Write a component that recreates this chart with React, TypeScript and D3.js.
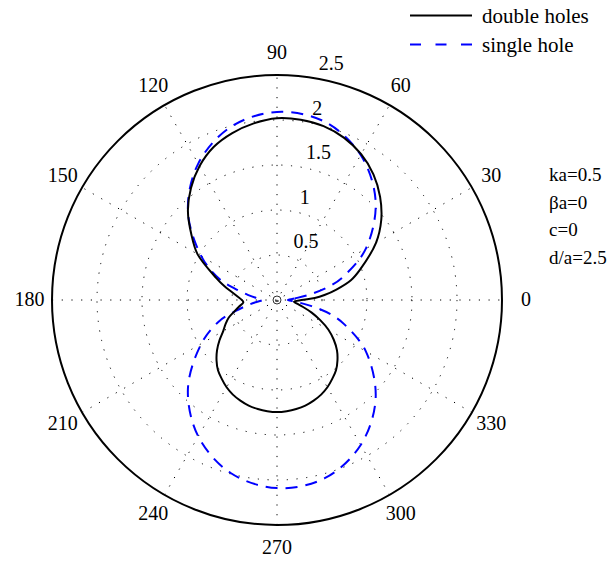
import React from "react";
import * as d3 from "d3";

// Polar pattern samples: angle in degrees (counter-clockwise from 0) and radius
const doubleAngles = [0, 3, 6, 10, 15, 20, 30, 37.5, 45, 52.5, 60, 67.5, 75, 82.5, 90, 97.5, 105, 112.5, 120, 127.5, 135, 142.5, 150, 160, 165, 170, 175, 180, 184, 190, 195, 200, 205, 210, 215, 220, 225, 230, 235, 240, 245, 250, 255, 260, 265, 270, 275, 280, 285, 290, 295, 300, 305, 310, 315, 320, 325, 330, 335, 340, 345, 350, 354];
const doubleRadii = [0.27, 0.42, 0.53, 0.67, 0.85, 0.98, 1.27, 1.46, 1.62, 1.76, 1.87, 1.95, 2.0, 2.02, 2.02, 1.98, 1.92, 1.84, 1.72, 1.57, 1.4, 1.2, 1.02, 0.72, 0.61, 0.51, 0.44, 0.39, 0.375, 0.43, 0.49, 0.57, 0.63, 0.69, 0.78, 0.87, 0.95, 1.02, 1.07, 1.12, 1.16, 1.19, 1.215, 1.23, 1.24, 1.245, 1.24, 1.23, 1.215, 1.19, 1.16, 1.12, 1.07, 1.02, 0.95, 0.87, 0.77, 0.66, 0.53, 0.41, 0.3, 0.22, 0.19];

const singleAngles = [0, 5, 10, 15, 20, 30, 45, 60, 75, 90, 105, 120, 135, 150, 160, 165, 170, 175, 180, 185, 190, 195, 200, 210, 225, 240, 255, 270, 285, 300, 315, 330, 340, 345, 350, 355];
const singleRadii = [0.12, 0.2, 0.39, 0.62, 0.8, 1.14, 1.55, 1.86, 2.05, 2.09, 1.99, 1.75, 1.4, 0.97, 0.68, 0.48, 0.33, 0.22, 0.16, 0.22, 0.33, 0.48, 0.68, 0.97, 1.4, 1.75, 1.99, 2.09, 2.05, 1.86, 1.55, 1.14, 0.8, 0.62, 0.39, 0.2];

const ringValues = [0.5, 1, 1.5, 2, 2.5];
const spokeAngles = [0, 30, 60, 90, 120, 150];
const angleLabels = ["0", "30", "60", "90", "120", "150", "180", "210", "240", "270", "300", "330"];
const legendNames = ["double holes", "single hole"];
const paramLines = ["ka=0.5", "\u03b2a=0", "c=0", "d/a=2.5"];

const W = 613;
const H = 563;
const cx = 277;
const cy = 300;
const rMax = 2.5;
const FONT = "'Liberation Serif', 'Times New Roman', Times, serif";

const r = d3.scaleLinear().domain([0, rMax]).range([0, 225]);
const toRad = (deg: number) => (deg * Math.PI) / 180;

type P = { a: number; v: number };

const pathFor = (angles: number[], radii: number[]) => {
  const pts: P[] = angles.map((a, i) => ({ a, v: radii[i] }));
  return d3
    .line<P>()
    .x((p) => cx + r(p.v) * Math.cos(toRad(p.a)))
    .y((p) => cy - r(p.v) * Math.sin(toRad(p.a)))
    .curve(d3.curveCatmullRomClosed.alpha(0.5))(pts) as string;
};

export default function App() {
  const R = r(rMax);
  const dots = "1.2 8.5";
  const lbl82 = toRad(82);
  return (
    <svg
      width={W}
      height={H}
      style={{ position: "absolute", left: 0, top: 0, background: "#fff" }}
      fontFamily={FONT}
    >
      <rect x={0} y={0} width={W} height={H} fill="#fff" />
      {/* dotted spokes */}
      {spokeAngles.map((a) => (
        <line
          key={"s" + a}
          x1={cx - R * Math.cos(toRad(a))}
          y1={cy + R * Math.sin(toRad(a))}
          x2={cx + R * Math.cos(toRad(a))}
          y2={cy - R * Math.sin(toRad(a))}
          stroke="#000"
          strokeWidth={1}
          strokeDasharray={dots}
        />
      ))}
      {/* dotted rings */}
      {ringValues.slice(0, -1).map((v) => (
        <circle
          key={"c" + v}
          cx={cx}
          cy={cy}
          r={r(v)}
          fill="none"
          stroke="#000"
          strokeWidth={1}
          strokeDasharray={dots}
        />
      ))}
      {/* outer boundary */}
      <circle cx={cx} cy={cy} r={R} fill="none" stroke="#000" strokeWidth={2} />
      {/* angle labels */}
      {angleLabels.map((t, i) => {
        const a = toRad(i * 30);
        return (
          <text
            key={"a" + t}
            x={cx + 1.1 * R * Math.cos(a) + (i === 0 ? 1.5 : 0)}
            y={cy - 1.1 * R * Math.sin(a) - 1}
            textAnchor="middle"
            dominantBaseline="central"
            fontSize={20}
          >
            {t}
          </text>
        );
      })}
      {/* radial labels */}
      {ringValues.map((v) => {
        const rr = r(v + 0.025);
        return (
          <text
            key={"r" + v}
            x={cx + rr * Math.cos(lbl82) + 10}
            y={cy - rr * Math.sin(lbl82) - 5}
            fontSize={20}
          >
            {String(v)}
          </text>
        );
      })}
      {/* curves */}
      <path d={pathFor(singleAngles, singleRadii)} fill="none" stroke="#0000ff" strokeWidth={2} strokeDasharray="12 8" />
      <path d={pathFor(doubleAngles, doubleRadii)} fill="none" stroke="#000" strokeWidth={2} />
      <circle cx={cx} cy={cy} r={4} fill="none" stroke="#333" strokeWidth={1} />
      {/* legend */}
      <line x1={410} y1={15.5} x2={472} y2={15.5} stroke="#000" strokeWidth={2} />
      <text x={482} y={23} fontSize={21}>{legendNames[0]}</text>
      <line x1={410} y1={44.5} x2={472} y2={44.5} stroke="#0000ff" strokeWidth={2} strokeDasharray="11 14.5" />
      <text x={482} y={52} fontSize={21}>{legendNames[1]}</text>
      {/* parameters */}
      {paramLines.map((t, i) => (
        <text key={"p" + i} x={549} y={181 + i * 27.7} fontSize={19}>
          {t}
        </text>
      ))}
    </svg>
  );
}
